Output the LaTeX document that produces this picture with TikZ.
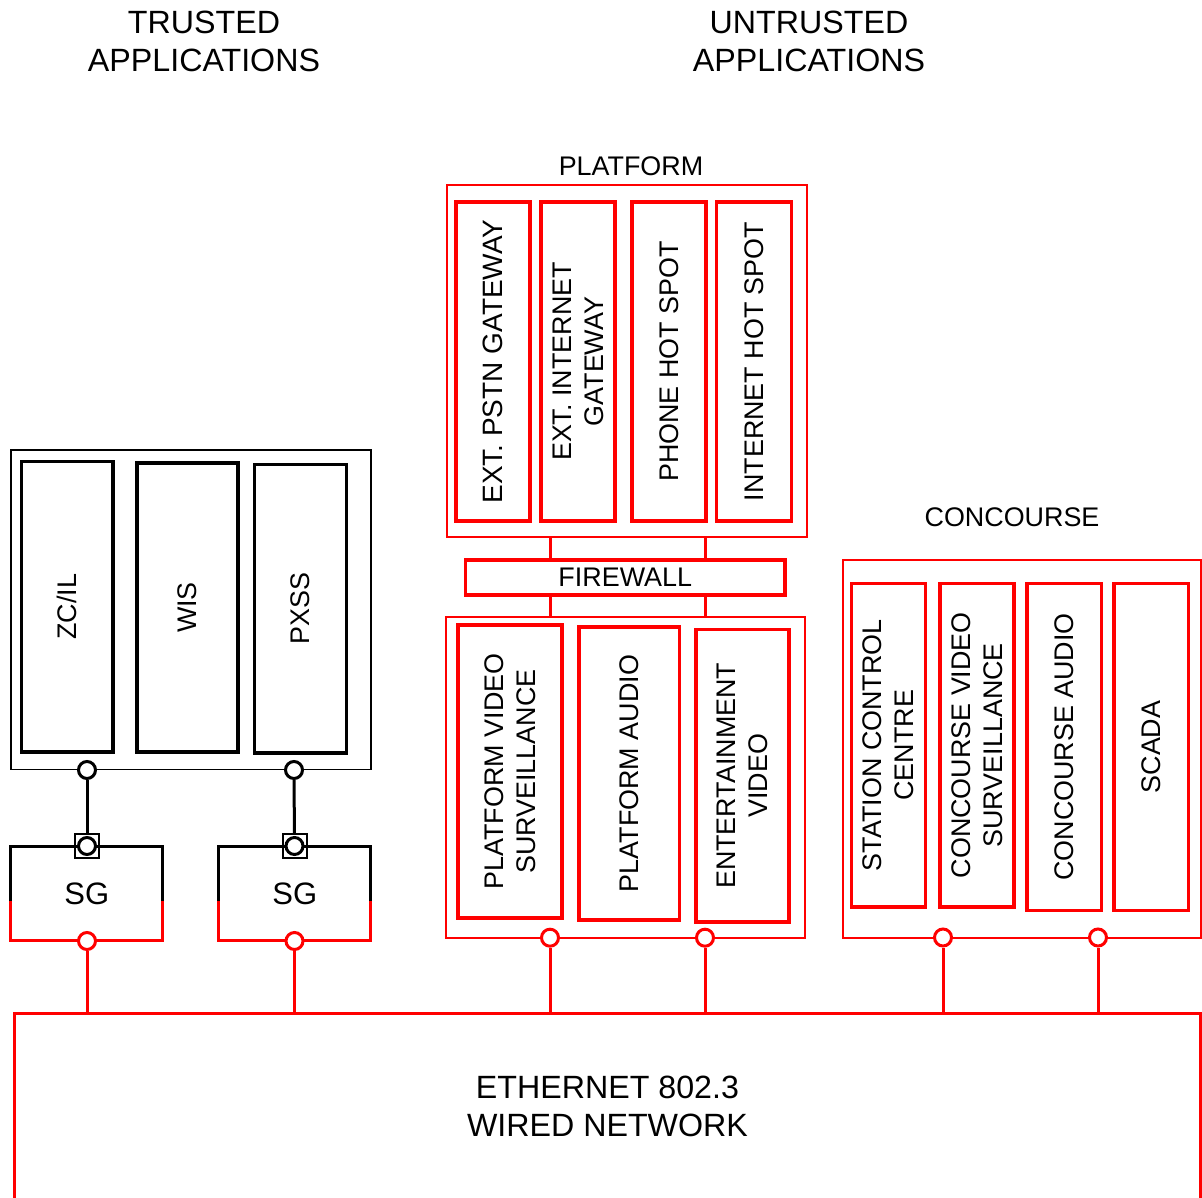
\documentclass[tikz,border=0pt]{standalone}
\usepackage{fontspec}
\setmainfont{Liberation Sans}
\usetikzlibrary{calc}
\newcommand{\titlefont}{\fontsize{32.2}{38}\selectfont}
\newcommand{\unitfont}{\fontsize{26.9}{32}\selectfont}
\begin{document}
\begin{tikzpicture}[x=1pt,y=-1pt,
  frame/.style={draw, line width=1.8pt, inner sep=0pt},
  unitbox/.style={draw, line width=3.3pt, rotate=90, align=center,
                  font=\unitfont, inner sep=0pt},
  port/.style={circle, draw, fill=white, line width=3pt,
               minimum size=17pt, inner sep=0pt},
  link/.style={line width=3pt},
  heading/.style={align=center, font=\titlefont, inner sep=0pt},
  caption/.style={font=\unitfont, inner sep=0pt}
]
\useasboundingbox (0,0) rectangle (1202,1198);

% ---------- headings ----------
\node[heading] (trusted) at (204,41) {TRUSTED\\APPLICATIONS};
\node[heading] (untrusted) at (809,41) {UNTRUSTED\\APPLICATIONS};

% ---------- trusted applications ----------
\node[frame, minimum width=359.7pt, minimum height=319.5pt] (tbox) at (190.8,609.7) {};
\node[unitbox, minimum width=290.5pt, minimum height=91.5pt] (zcil) at (67.25,606.75) {ZC/IL};
\node[unitbox, minimum width=289pt, minimum height=101pt] (wis) at (187.5,607.5) {WIS};
\node[unitbox, minimum width=288.5pt, minimum height=92pt] (pxss) at (300.5,608.75) {PXSS};
\node[port] (tp1) at (87,770) {};
\node[port] (tp2) at (294,770) {};

% ---------- security gateways ----------
\node[inner sep=0pt, minimum width=151.5pt, minimum height=94pt, font=\fontsize{31}{36}\selectfont] (sg1) at (86.75,893.5) {SG};
\node[inner sep=0pt, minimum width=151.5pt, minimum height=94pt, font=\fontsize{31}{36}\selectfont] (sg2) at (294.75,893.5) {SG};
\foreach \g in {sg1,sg2}{
  \draw[link, black] ([yshift=-55pt]\g.north west) |- (\g.north east) -- ([yshift=-55pt]\g.north east);
  \draw[link, red] ([yshift=-55pt]\g.north west) |- (\g.south east) -- ([yshift=-55pt]\g.north east);
}
\node[draw, line width=2pt, minimum size=24pt, inner sep=0pt] (sq1) at (87,846) {};
\node[draw, line width=2pt, minimum size=24pt, inner sep=0pt] (sq2) at (294.5,846) {};
\node[port] (sqc1) at (87,846) {};
\node[port] (sqc2) at (294.5,846) {};
\node[port, draw=red] (sgp1) at (87,941) {};
\node[port, draw=red] (sgp2) at (294.5,941) {};
\draw[link] (tp1) -- (sq1);
\draw[link] (tp2) -- (sq2);

% ---------- platform ----------
\node[caption] (platlbl) at (631,166) {PLATFORM};
\node[frame, draw=red, minimum width=360pt, minimum height=352pt] (plat) at (627.3,361) {};
\node[unitbox, draw=red, minimum width=319pt, minimum height=74pt, font=\fontsize{28}{32}\selectfont] (pstn) at (493,361.5) {EXT. PSTN GATEWAY};
\node[unitbox, draw=red, minimum width=319pt, minimum height=74pt] (inetgw) at (578,361.5) {EXT. INTERNET\\GATEWAY};
\node[unitbox, draw=red, minimum width=319pt, minimum height=74pt] (phone) at (669,361.5) {PHONE HOT SPOT};
\node[unitbox, draw=red, minimum width=319pt, minimum height=75pt] (ihs) at (754,361.5) {INTERNET HOT SPOT};

\node[draw=red, line width=3.3pt, inner sep=0pt, minimum width=319.5pt, minimum height=35pt, font=\unitfont] (fw) at (625.25,577.5) {FIREWALL};

\node[frame, draw=red, minimum width=359.3pt, minimum height=321pt] (lplat) at (625.65,777.2) {};
\node[unitbox, draw=red, minimum width=293pt, minimum height=104pt] (pvs) at (510,771.5) {PLATFORM VIDEO\\SURVEILLANCE};
\node[unitbox, draw=red, minimum width=293pt, minimum height=100.5pt] (paud) at (629.25,773.5) {PLATFORM AUDIO};
\node[unitbox, draw=red, minimum width=292.5pt, minimum height=93pt] (ev) at (742.5,775.75) {ENTERTAINMENT\\VIDEO};
\node[port, draw=red] (lp1) at (550,937.7) {};
\node[port, draw=red] (lp2) at (705,937.7) {};

\foreach \p in {lp1,lp2}{
  \draw[link, red] (plat.south -| \p) -- (fw.north -| \p);
  \draw[link, red] (fw.south -| \p) -- (lplat.north -| \p);
}

% ---------- concourse ----------
\node[caption] (conclbl) at (1012,517) {CONCOURSE};
\node[frame, draw=red, minimum width=358pt, minimum height=378pt] (conc) at (1022,749) {};
\node[unitbox, draw=red, minimum width=323.5pt, minimum height=74pt] (scc) at (888.5,745.25) {STATION CONTROL\\CENTRE};
\node[unitbox, draw=red, minimum width=323.5pt, minimum height=74pt] (cvs) at (977,745.25) {CONCOURSE VIDEO\\SURVEILLANCE};
\node[unitbox, draw=red, minimum width=327pt, minimum height=74.5pt] (caud) at (1064.25,747) {CONCOURSE AUDIO};
\node[unitbox, draw=red, minimum width=327pt, minimum height=74.5pt] (scada) at (1151.25,747) {SCADA};
\node[port, draw=red] (cp1) at (943,937.5) {};
\node[port, draw=red] (cp2) at (1098,937.5) {};

% ---------- ethernet backbone ----------
\node[heading, minimum width=1185pt, minimum height=184pt] (eth) at (607.5,1106) {ETHERNET 802.3\\WIRED NETWORK};
\draw[link, red] ([yshift=-10pt]eth.south west) -- (eth.north west) -- (eth.north east) -- ([yshift=-10pt]eth.south east);

\foreach \p in {sgp1,sgp2,lp1,lp2,cp1,cp2}{
  \draw[link, red] (\p) -- (\p |- eth.north);
}
\end{tikzpicture}
\end{document}
